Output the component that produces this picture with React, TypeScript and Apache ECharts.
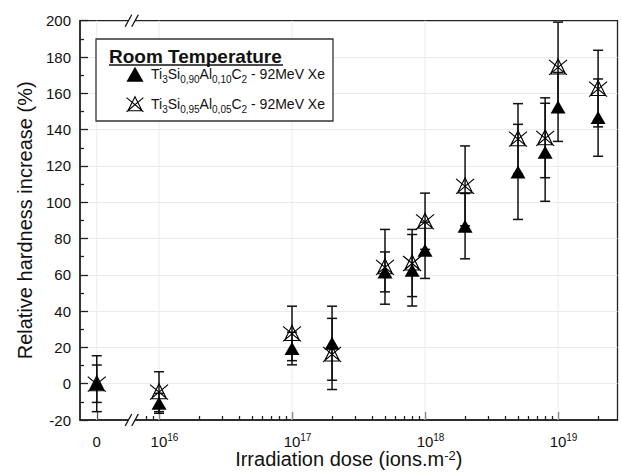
import React, { useEffect, useRef } from 'react';
import * as echarts from 'echarts';

// ---- data ----
const doses = [0, 1e16, 1e17, 2e17, 5e17, 8e17, 1e18, 2e18, 5e18, 8e18, 1e19, 2e19];
const hardness090 = [0, -10.8, 19.4, 22.3, 61.6, 62.5, 73.5, 86.8, 116.7, 127.5, 152.5, 146.6];
const error090 = [10.3, 5.5, 9, 20.4, 11, 19.7, 15.5, 18, 26.2, 27, 19, 21.3];
const hardness095 = [0, -4.4, 27.7, 16.4, 64.4, 66.5, 89.5, 109, 135, 135.5, 174.5, 162.6];
const error095 = [15.4, 11, 15, 19.6, 20.6, 18.5, 15.5, 22, 19.3, 22, 24.7, 21.1];
const seriesNames = ['Ti3Si0,90Al0,10C2 - 92MeV Xe', 'Ti3Si0,95Al0,05C2 - 92MeV Xe'];
const seriesLabels = [
  '{m|Ti}{s|3}{m|Si}{s|0,90}{m|Al}{s|0,10}{m|C}{s|2}{m| - 92MeV Xe}',
  '{m|Ti}{s|3}{m|Si}{s|0,95}{m|Al}{s|0,05}{m|C}{s|2}{m| - 92MeV Xe}',
];
const legendTitle = 'Room Temperature';
const majorExponents = [16, 17, 18, 19];
const minorMantissas = [2, 3, 4, 5, 6, 7, 8, 9];
const zeroLabel = '0';

// ---- axis geometry (broken log axis) ----
const ZERO_POS = 15.532;
const BREAK_POS = 15.795;
const X_MIN = 15.406;
const X_MAX = 19.447;
const Y_MIN = -20;
const Y_MAX = 200;

const pos = (d: number) => (d === 0 ? ZERO_POS : Math.log10(d));

const majorTicks = [ZERO_POS, ...majorExponents];
const minorTicks: number[] = [];
for (let e = 15; e <= 19; e++) {
  for (const m of minorMantissas) {
    const v = e + Math.log10(m);
    if (v > BREAK_POS + 0.07 && v < X_MAX) minorTicks.push(v);
  }
}

const FONT = '"Liberation Sans", Arial, sans-serif';
const INK = '#111';

const TRI_FILLED = 'path://M8,0 L16,14 L0,14 Z';
const TRI_CROSSED = 'path://M9,0 L16.5,15 L1.5,15 Z M0,1 L18,16 M18,1 L0,16';

function errorSeries(name: string, vals: number[], errs: number[]) {
  return {
    name,
    type: 'custom',
    z: 5,
    data: doses.map((d, i) => [pos(d), vals[i] - errs[i], vals[i] + errs[i]]),
    encode: { x: 0, y: [1, 2] },
    renderItem: (params: any, api: any) => {
      const x = api.value(0);
      const top = api.coord([x, api.value(2)]);
      const bot = api.coord([x, api.value(1)]);
      const hw = 5;
      const st = { stroke: INK, lineWidth: 1.5 };
      return {
        type: 'group',
        children: [
          { type: 'line', shape: { x1: top[0], y1: top[1], x2: bot[0], y2: bot[1] }, style: st },
          { type: 'line', shape: { x1: top[0] - hw, y1: top[1], x2: top[0] + hw, y2: top[1] }, style: st },
          { type: 'line', shape: { x1: bot[0] - hw, y1: bot[1], x2: bot[0] + hw, y2: bot[1] }, style: st },
        ],
      };
    },
  };
}

export default function App() {
  const ref = useRef<HTMLDivElement>(null);
  useEffect(() => {
    if (!ref.current) return;
    const chart = echarts.init(ref.current, undefined, { renderer: 'svg' });
    const option: any = {
      animation: false,
      backgroundColor: '#fff',
      textStyle: { fontFamily: FONT },
      grid: {
        left: 80,
        right: 4.5,
        top: 20.7,
        bottom: 52,
        show: true,
        outerBoundsMode: 'none',
        containLabel: false,
        borderColor: '#222',
        borderWidth: 1.3,
        backgroundColor: 'transparent',
      },
      xAxis: [
        {
          type: 'value',
          min: X_MIN,
          max: X_MAX,
          position: 'bottom',
          axisLine: { show: true, onZero: false, lineStyle: { color: '#222', width: 1.5 } },
          axisTick: {
            show: true,
            inside: true,
            length: 8,
            customValues: majorTicks,
            lineStyle: { color: '#222', width: 1.3 },
          },
          axisLabel: {
            customValues: majorTicks,
            margin: 12,
            formatter: (v: number) =>
              Math.abs(v - ZERO_POS) < 1e-6 ? `{a|${zeroLabel}}` : `{p|}{a|10}{s|${Math.round(v)}}`,
            rich: {
              a: { fontSize: 15, color: INK, lineHeight: 18, fontFamily: FONT },
              s: { fontSize: 10, color: INK, lineHeight: 10, verticalAlign: 'top', fontFamily: FONT },
              p: { width: 11 },
            },
          },
          splitLine: { show: false },
          name: '{n|Irradiation dose (ions.m}{s|-2}{n|)}',
          nameLocation: 'middle',
          nameGap: 29,
          nameMoveOverlap: false,
          nameTextStyle: {
            rich: {
              n: { fontSize: 20, color: INK, lineHeight: 20, fontFamily: FONT },
              s: { fontSize: 13, color: INK, lineHeight: 10, verticalAlign: 'top', fontFamily: FONT },
            },
          },
        },
        {
          type: 'value',
          min: X_MIN,
          max: X_MAX,
          position: 'bottom',
          axisLine: { show: false, onZero: false },
          axisTick: {
            show: true,
            inside: true,
            length: 4,
            customValues: minorTicks,
            lineStyle: { color: '#222', width: 1.3 },
          },
          axisLabel: { show: false },
          splitLine: { show: false },
        },
      ],
      yAxis: {
        type: 'value',
        min: Y_MIN,
        max: Y_MAX,
        interval: 20,
        axisLine: { show: true, lineStyle: { color: '#222', width: 1.5 } },
        axisTick: { show: true, inside: true, length: 8, lineStyle: { color: '#222', width: 1.3 } },
        minorTick: { show: true, splitNumber: 2, length: 4, lineStyle: { color: '#222', width: 1.3 } },
        axisLabel: { fontSize: 15, color: INK, margin: 9, fontFamily: FONT },
        splitLine: { show: true, showMinLine: false, showMaxLine: false, lineStyle: { color: '#ebebeb', width: 1 } },
        name: 'Relative hardness increase (%)',
        nameLocation: 'middle',
        nameGap: 45,
        nameMoveOverlap: false,
        nameTextStyle: { fontSize: 20, color: INK, fontFamily: FONT },
      },
      legend: {
        orient: 'vertical',
        left: 126,
        top: 66.7,
        padding: 0,
        itemGap: 12,
        itemWidth: 22,
        itemHeight: 15,
        selectedMode: false,
        data: [
          { name: seriesNames[0], icon: TRI_FILLED, itemStyle: { color: '#000' } },
          {
            name: seriesNames[1],
            icon: TRI_CROSSED,
            itemStyle: { color: 'rgba(0,0,0,0)', borderColor: '#000', borderWidth: 1.1 },
          },
        ],
        formatter: (name: string) => seriesLabels[seriesNames.indexOf(name)],
        textStyle: {
          rich: {
            m: { fontSize: 14, color: INK, lineHeight: 20, fontFamily: FONT },
            s: { fontSize: 10, color: INK, lineHeight: 6, verticalAlign: 'bottom', fontFamily: FONT },
          },
        },
      },
      graphic: [
        {
          type: 'rect',
          z: 3,
          shape: { x: 96, y: 39, width: 237, height: 82 },
          style: { fill: '#fff', stroke: '#333', lineWidth: 1.3 },
        },
        {
          type: 'text',
          z: 10,
          x: 109,
          y: 56,
          style: {
            text: legendTitle,
            fill: INK,
            fontSize: 19,
            fontWeight: 'bold',
            fontFamily: FONT,
            align: 'left',
            verticalAlign: 'middle',
          },
        },
        {
          type: 'line',
          z: 10,
          shape: { x1: 109, y1: 65, x2: 283, y2: 65 },
          style: { stroke: INK, lineWidth: 1.5 },
        },
      ],
      series: [
        {
          name: 'gridX',
          type: 'custom',
          z: 1,
          silent: true,
          data: majorTicks.map((v) => [v]),
          encode: { x: 0 },
          renderItem: (params: any, api: any) => {
            const x = api.value(0);
            const a = api.coord([x, Y_MIN]);
            const b = api.coord([x, Y_MAX]);
            return {
              type: 'line',
              shape: { x1: a[0], y1: a[1], x2: b[0], y2: b[1] },
              style: { stroke: '#ebebeb', lineWidth: 1 },
            };
          },
        },
        errorSeries('err090', hardness090, error090),
        errorSeries('err095', hardness095, error095),
        {
          name: seriesNames[0],
          type: 'scatter',
          z: 6,
          symbol: 'triangle',
          symbolSize: [15, 13],
          itemStyle: { color: '#000', opacity: 1 },
          data: doses.map((d, i) => [pos(d), hardness090[i]]),
        },
        {
          name: seriesNames[1],
          type: 'scatter',
          z: 7,
          symbol: TRI_CROSSED,
          symbolSize: [18, 16],
          itemStyle: { color: 'rgba(0,0,0,0)', borderColor: '#000', borderWidth: 1.1, opacity: 1 },
          data: doses.map((d, i) => [pos(d), hardness095[i]]),
        },
        {
          name: 'axisBreak',
          type: 'custom',
          z: 10,
          clip: false,
          silent: true,
          data: [[BREAK_POS]],
          encode: { x: 0 },
          renderItem: (params: any, api: any) => {
            const x = api.value(0);
            const children: any[] = [];
            for (const yv of [Y_MIN, Y_MAX]) {
              const p = api.coord([x, yv]);
              children.push({
                type: 'rect',
                shape: { x: p[0] - 3.3, y: p[1] - 2.5, width: 6.6, height: 5 },
                style: { fill: '#fff' },
              });
              children.push({
                type: 'line',
                shape: { x1: p[0] - 6.6, y1: p[1] + 6, x2: p[0], y2: p[1] - 6 },
                style: { stroke: INK, lineWidth: 1.3 },
              });
              children.push({
                type: 'line',
                shape: { x1: p[0], y1: p[1] + 6, x2: p[0] + 6.6, y2: p[1] - 6 },
                style: { stroke: INK, lineWidth: 1.3 },
              });
            }
            return { type: 'group', children };
          },
        },
      ],
    };
    chart.setOption(option);
    return () => chart.dispose();
  }, []);
  return (
    <div
      ref={ref}
      style={{ position: 'fixed', left: 0, top: 0, width: 622, height: 472, background: '#fff' }}
    />
  );
}
